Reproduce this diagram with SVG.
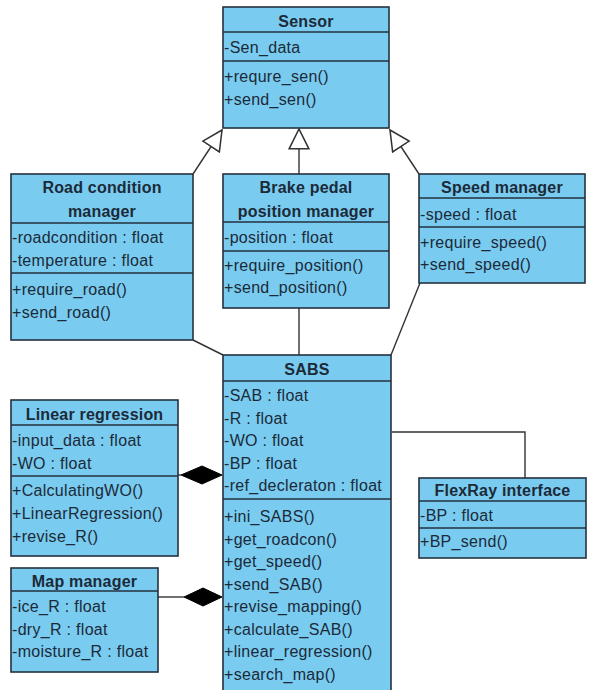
<svg xmlns="http://www.w3.org/2000/svg" width="595" height="690" viewBox="0 0 595 690">
<style>
.box{fill:#79CBF0;stroke:#24313f;stroke-width:1.6}
.sep{stroke:#24313f;stroke-width:1.6}
.t{font-family:"Liberation Sans",Arial,sans-serif;font-size:16px;fill:#1c2a38;letter-spacing:0.3px}
.h{font-family:"Liberation Sans",Arial,sans-serif;font-size:16px;font-weight:bold;fill:#1c2a38;text-anchor:middle;letter-spacing:0.2px}
.ln{fill:none;stroke:#333;stroke-width:1.4}
</style>
<defs>
<marker id="gen" markerUnits="userSpaceOnUse" markerWidth="22" markerHeight="22" viewBox="0 0 20 20" refX="19" refY="10" orient="auto">
<path d="M1,1 L19,10 L1,19 Z" fill="#fff" stroke="#333" stroke-width="1.4"/>
</marker>
</defs>
<g id="connectors">
<line class="ln" x1="193" y1="174" x2="222" y2="130" marker-end="url(#gen)"/>
<line class="ln" x1="299" y1="174" x2="299" y2="129" marker-end="url(#gen)"/>
<line class="ln" x1="419" y1="174" x2="390" y2="130" marker-end="url(#gen)"/>
<line class="ln" x1="193" y1="340" x2="223" y2="355"/>
<line class="ln" x1="299" y1="308" x2="299" y2="355"/>
<line class="ln" x1="420" y1="283" x2="391" y2="355"/>
<polyline class="ln" points="392,432 525,432 525,478"/>
<line class="ln" x1="178" y1="475" x2="181" y2="475"/>
<path d="M181,475 L202,466 L222,475 L202,484 Z" fill="#000" stroke="#000"/>
<line class="ln" x1="158" y1="597" x2="184" y2="597"/>
<path d="M184,597 L203,588 L222,597 L203,606 Z" fill="#000" stroke="#000"/>
</g>
<g id="sensor">
<rect class="box" x="223" y="7" width="166" height="121"/>
<line class="sep" x1="223" y1="32" x2="389" y2="32"/>
<line class="sep" x1="223" y1="61" x2="389" y2="61"/>
<text class="h" x="306" y="27">Sensor</text>
<text class="t" x="224" y="53">-Sen_data</text>
<text class="t" x="224" y="82">+requre_sen()</text>
<text class="t" x="224" y="105">+send_sen()</text>
</g>
<g id="road">
<rect class="box" x="11" y="174" width="182" height="166"/>
<line class="sep" x1="11" y1="223" x2="193" y2="223"/>
<line class="sep" x1="11" y1="273" x2="193" y2="273"/>
<text class="h" x="102" y="193">Road condition</text>
<text class="h" x="102" y="217">manager</text>
<text class="t" x="12" y="243">-roadcondition : float</text>
<text class="t" x="12" y="266">-temperature : float</text>
<text class="t" x="12" y="295">+require_road()</text>
<text class="t" x="12" y="318">+send_road()</text>
</g>
<g id="brake">
<rect class="box" x="223" y="174" width="166" height="134"/>
<line class="sep" x1="223" y1="222" x2="389" y2="222"/>
<line class="sep" x1="223" y1="251" x2="389" y2="251"/>
<text class="h" x="306" y="193">Brake pedal</text>
<text class="h" x="306" y="217">position manager</text>
<text class="t" x="224" y="243">-position : float</text>
<text class="t" x="224" y="271">+require_position()</text>
<text class="t" x="224" y="293">+send_position()</text>
</g>
<g id="speed">
<rect class="box" x="419" y="174" width="166" height="109"/>
<line class="sep" x1="419" y1="198" x2="585" y2="198"/>
<line class="sep" x1="419" y1="227" x2="585" y2="227"/>
<text class="h" x="502" y="193">Speed manager</text>
<text class="t" x="420" y="220">-speed : float</text>
<text class="t" x="420" y="248">+require_speed()</text>
<text class="t" x="420" y="270">+send_speed()</text>
</g>
<g id="sabs">
<rect class="box" x="223" y="355" width="168" height="345"/>
<line class="sep" x1="223" y1="381" x2="391" y2="381"/>
<line class="sep" x1="223" y1="499" x2="391" y2="499"/>
<text class="h" x="307" y="375">SABS</text>
<text class="t" x="224" y="401">-SAB : float</text>
<text class="t" x="224" y="423.5">-R : float</text>
<text class="t" x="224" y="446">-WO : float</text>
<text class="t" x="224" y="468.5">-BP : float</text>
<text class="t" x="224" y="491">-ref_decleraton : float</text>
<text class="t" x="224" y="522">+ini_SABS()</text>
<text class="t" x="224" y="544.5">+get_roadcon()</text>
<text class="t" x="224" y="567">+get_speed()</text>
<text class="t" x="224" y="589.5">+send_SAB()</text>
<text class="t" x="224" y="612">+revise_mapping()</text>
<text class="t" x="224" y="634.5">+calculate_SAB()</text>
<text class="t" x="224" y="657">+linear_regression()</text>
<text class="t" x="224" y="679.5">+search_map()</text>
</g>
<g id="linear">
<rect class="box" x="11" y="400" width="167" height="156"/>
<line class="sep" x1="11" y1="425" x2="178" y2="425"/>
<line class="sep" x1="11" y1="476" x2="178" y2="476"/>
<text class="h" x="94.5" y="420">Linear regression</text>
<text class="t" x="12" y="445.5">-input_data : float</text>
<text class="t" x="12" y="468.5">-WO : float</text>
<text class="t" x="12" y="495.5">+CalculatingWO()</text>
<text class="t" x="12" y="518.5">+LinearRegression()</text>
<text class="t" x="12" y="542">+revise_R()</text>
</g>
<g id="map">
<rect class="box" x="11" y="568" width="147" height="104"/>
<line class="sep" x1="11" y1="591" x2="158" y2="591"/>
<text class="h" x="84.5" y="587">Map manager</text>
<text class="t" x="12" y="612">-ice_R : float</text>
<text class="t" x="12" y="634.5">-dry_R : float</text>
<text class="t" x="12" y="657">-moisture_R : float</text>
</g>
<g id="flexray">
<rect class="box" x="419" y="478" width="167" height="80"/>
<line class="sep" x1="419" y1="501" x2="586" y2="501"/>
<line class="sep" x1="419" y1="528" x2="586" y2="528"/>
<text class="h" x="502.5" y="496">FlexRay interface</text>
<text class="t" x="420" y="520.5">-BP : float</text>
<text class="t" x="420" y="547">+BP_send()</text>
</g>
</svg>
